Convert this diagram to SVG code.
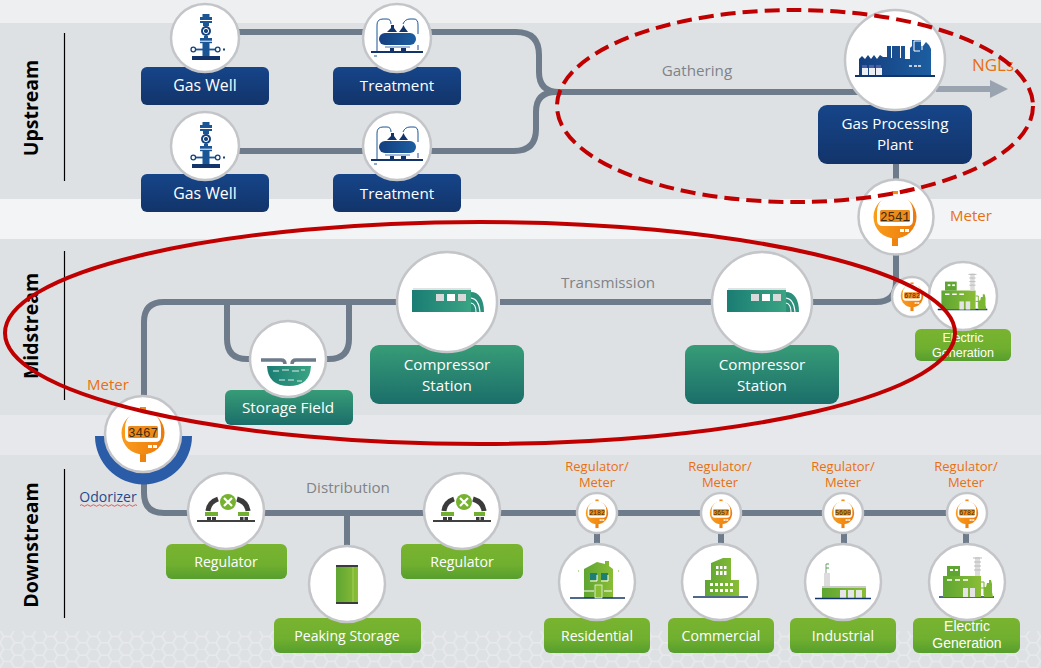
<svg xmlns="http://www.w3.org/2000/svg" width="1041" height="668" viewBox="0 0 1041 668">
<style>
text{font-family:"Open Sans","Noto Sans","Liberation Sans",sans-serif}
.c{fill:#fff;stroke:#c3c5c8;stroke-width:2.5}
.lb{fill:#fff;font-size:15.2px;text-anchor:middle}
.ls{fill:#fff;font-size:14.100px;text-anchor:middle}
.eg{font-family:"Liberation Sans",sans-serif;fill:#fff;text-anchor:middle}
.or{fill:#e96f10;font-size:13px;text-anchor:middle}
.gr{fill:#808387;font-size:15.200px;text-anchor:middle}
.sec{fill:#000;font-size:19.500px;font-weight:700;text-anchor:middle}
.pipe{fill:none;stroke:#6e7b8b;stroke-width:6}
.rule{stroke:#000;stroke-width:1.2}
.dg{font-family:"Liberation Mono",monospace;font-size:12.500px;fill:#3d2a10;text-anchor:middle}
.ds{font-size:6.500px}
</style>
<defs>
<linearGradient id="b" x1="0" y1="0" x2="0" y2="1"><stop offset="0" stop-color="#164589"/><stop offset="1" stop-color="#12346a"/></linearGradient>
<linearGradient id="t" x1="0" y1="0" x2="0" y2="1"><stop offset="0" stop-color="#379c77"/><stop offset="1" stop-color="#1b6e6a"/></linearGradient>
<linearGradient id="g" x1="0" y1="0" x2="0" y2="1"><stop offset="0" stop-color="#79b42f"/><stop offset=".6" stop-color="#70af2f"/><stop offset="1" stop-color="#569e2e"/></linearGradient>
<linearGradient id="gh" x1="0" y1="0" x2="1" y2="0"><stop offset="0" stop-color="#5ea532"/><stop offset="1" stop-color="#8abd36"/></linearGradient>
<linearGradient id="th" x1="0" y1="0" x2="1" y2="0"><stop offset="0" stop-color="#1a7c73"/><stop offset="1" stop-color="#3aa483"/></linearGradient>
<linearGradient id="bh" x1="0" y1="0" x2="1" y2="0"><stop offset="0" stop-color="#143f7f"/><stop offset="1" stop-color="#1c5ea0"/></linearGradient>
<linearGradient id="oh" x1="0" y1="0" x2="1" y2="0"><stop offset="0" stop-color="#f99d1c"/><stop offset="1" stop-color="#ec7a0c"/></linearGradient>
<pattern id="hex" width="27" height="31.2" patternUnits="userSpaceOnUse" patternTransform="scale(.8)"><path d="M0,7.8 L4.5,0 H13.5 L18,7.8 L13.5,15.6 H4.5 Z M18,7.8 H27 M4.5,15.6 L0,23.4 L4.5,31.2 M13.5,15.6 L18,23.4 L13.5,31.2 M18,23.4 H27" fill="none" stroke="#e7e9eb" stroke-width="2"/></pattern>

<g id="iWell" fill="#1a5596">
<rect x="-13" y="18" width="28" height="4" fill="#12346a"/>
<rect x="-2.500" y="-24" width="7" height="3"/>
<rect x="-5" y="-21" width="12" height="3"/><rect x="-5" y="-17" width="12" height="2"/>
<rect x="-2" y="-15" width="6" height="3"/><rect x="-1" y="-2" width="4" height="2"/>
<rect x="-5" y="0" width="12" height="2.700"/><rect x="-5" y="3.700" width="12" height="1.500"/>
<rect x="-2.500" y="5" width="7" height="13"/>
<circle cx="1" cy="-7" r="5" fill="#134480"/><circle cx="1" cy="-7" r="2.600" fill="none" stroke="#fff" stroke-width="1"/>
<path d="M-10,11.500 H11" stroke="#1a5596" stroke-width="1.800"/>
<circle cx="-11.700" cy="11.500" r="2.300" fill="#fff" stroke="#134480" stroke-width="1.300"/><circle cx="12.700" cy="11.500" r="2.300" fill="#fff" stroke="#134480" stroke-width="1.300"/>
<rect x="18" y="10.500" width="2" height="2" fill="#134480"/>
</g>
<g id="iTreat">
<path d="M-26,14 H26" stroke="#12346a" stroke-width="2"/>
<rect x="-18" y="-5" width="37" height="12" rx="6" fill="url(#bh)"/>
<path d="M-12,9 H13" stroke="#1a5596" stroke-width=".8"/>
<rect x="-7" y="10" width="4" height="4" fill="#12346a"/><rect x="4" y="10" width="5" height="4" fill="#12346a"/>
<path d="M-10,-6 h10 l-3,-4 v-3 h-3 v3 z M2,-6 h9 l-3,-4 -1.500,-3 -1.500,3 z" fill="#12346a"/>
<path d="M-20,13 V-13 q0,-6 6,-6 h4 q4,0 4,5 M6,-14 q2,-5 7,-5 h4 q4,0 4,6 V-4 M21,7 V12 M-20,18 h-3" fill="none" stroke="#1a5596" stroke-width="1"/>
</g>
<g id="iPlant">
<path d="M-36,15 V-1 l3,-3 3,3 3,-4 3,4 3,-4 3,4 3,-4 3,2 h4 V-14 h4 V-2 h1 V-14 h8 V-2 h1 V-14 h4 V-1 h5 V-12 l2,-2 V-20 h9 v6 h2 l3,-4 3,3 2,4 V15 Z" fill="url(#bh)"/>
<path d="M-40,16 H40" stroke="#12346a" stroke-width="2"/>
<path d="M-33,5 h5 v3 h-5 z M-26,5 h5 v3 h-5 z M-19,5 h5 v3 h-5 z" fill="#4a5fa6"/>
<path d="M-33,8 h6 v7 h-6 z M-26,8 h6 v7 h-6 z M-19,8 h6 v7 h-6 z" fill="#fff" opacity=".92"/>
<path d="M19,-19 v10 h6 M19,-19 h8 v9" fill="none" stroke="#fff" stroke-width="1"/>
<path d="M14,5 h3 v2 h-3 z M19,5 h3 v2 h-3 z M23,5 h3 v2 h-3 z" fill="#c4cde0"/>
</g>
<g id="iComp">
<path d="M-35,-12 H24 V10 H-35 Z" fill="url(#th)"/>
<path d="M-34,-13 H24" stroke="#c3c5c8" stroke-width="1.200"/>
<rect x="-11" y="-8" width="8" height="7" fill="#d9d9d9"/><rect x="0" y="-8" width="8" height="7" fill="#fff"/><rect x="11" y="-8" width="8" height="7" fill="#d9d9d9"/>
<path d="M24,-10 C32,-10 37,-3 37,10 H24 Z" fill="#2c8f7c"/>
<path d="M24,-4 Q32,-3 33,10 M24,1 Q29,2 29,10" fill="none" stroke="#fff" stroke-width="1.100"/>
</g>
<g id="iMeter">
<rect x="-3" y="-26" width="6" height="6" fill="#f28c13"/>
<rect x="-3" y="19" width="6" height="10" fill="#ee8410"/>
<circle r="21.500" fill="url(#oh)"/>
<path d="M-18,-5 A18,18 0 0 1 18,-5 V3 Q18,9 12,9 H-12 Q-18,9 -18,3 Z" fill="#fff"/>
<rect x="-15" y="-7" width="30" height="12" rx="1.500" fill="#ee8a1a"/>
<rect x="5" y="12" width="4" height="3" fill="#fff"/><rect x="10" y="12" width="4" height="3" fill="#fff"/>
</g>
<g id="iReg">
<path d="M-29,10 H29" stroke="#000" stroke-width="1.300"/>
<path d="M-18,0 Q-17,-9 -8,-12 M22,0 Q21,-9 11,-12" fill="none" stroke="#3b3b3b" stroke-width="5"/>
<circle cx="2" cy="-9" r="8" fill="#75b22f"/>
<path d="M-2,-13 L6,-5 M6,-13 L-2,-5" stroke="#fff" stroke-width="2.200"/>
<rect x="-21" y="1" width="13" height="4" fill="#70af2f"/><rect x="12" y="1" width="11" height="4" fill="#70af2f"/>
<rect x="-19" y="6" width="4" height="3" fill="#3b3b3b"/><rect x="-14" y="6" width="4" height="3" fill="#3b3b3b"/>
<rect x="14" y="6" width="3.500" height="3" fill="#3b3b3b"/><rect x="18.500" y="6" width="3.500" height="3" fill="#3b3b3b"/>
</g>
<g id="iElec">
<path d="M-28,15 H27" stroke="#12346a" stroke-width="1.500"/>
<path d="M-24,-6 H14 V15 H-24 Z" fill="url(#gh)"/>
<rect x="-20" y="-16" width="13" height="10" fill="#5ea532"/>
<rect x="-17" y="-13" width="3" height="2" fill="#fff"/><rect x="-12" y="-13" width="3" height="2" fill="#fff"/>
<rect x="8" y="-25" width="5" height="19" fill="#dcdcdc"/>
<path d="M6,-24 h9 M7,-20 h7 M7,-16 h7 M7,-12 h7" stroke="#b9bbb9" stroke-width="1"/>
<path d="M-20,-2 h5 M-12,-2 h5 M-4,-2 h5" stroke="#fff" stroke-width="1.500"/>
<rect x="-4" y="6" width="5" height="9" fill="#e4e4e4"/><rect x="3" y="6" width="5" height="9" fill="#e4e4e4"/>
<path d="M14,0 h3 V13 M14,6 h6" fill="none" stroke="#6fae2f" stroke-width="1"/>
<path d="M17,15 V5 h2 l1,-4 h2 v-3 h2 l1,4 v8 l1,5 Z" fill="#7ab631"/>
</g>
</defs>

<g id="background">
<rect width="1041" height="668" fill="#f3f4f5"/>
<rect width="1041" height="23" fill="#eeeff1"/>
<rect y="23" width="1041" height="176" fill="#dee1e4"/>
<rect y="239" width="1041" height="176" fill="#dee1e4"/>
<rect y="415" width="1041" height="40" fill="#e6e8eb"/>
<rect y="455" width="1041" height="213" fill="#dee1e4"/>
<rect y="631" width="1041" height="37" fill="url(#hex)"/>
</g>

<g id="sections">
<text class="sec" transform="translate(38,108) rotate(-90)">Upstream</text>
<text class="sec" transform="translate(38,326) rotate(-90)">Midstream</text>
<text class="sec" transform="translate(38,545) rotate(-90)">Downstream</text>
<path class="rule" d="M64.500,33 V181 M64.500,251 V400 M64.500,469 V618"/>
</g>

<g id="connectors">
<path class="pipe" d="M239,32 H516 Q539,32 539,55 V72 Q539,92 559,92 H860"/>
<path class="pipe" d="M239,151 H514 Q536,151 536,129 V112 Q536,92 556,92"/>
<path class="pipe" d="M896,164 V185 M896,255 V282 Q896,302 876,302 H500 M144,400 V322 Q144,302 164,302 H400"/>
<path class="pipe" d="M227,302 V339 Q227,359 247,359 H255 M349,302 V339 Q349,359 329,359 H322"/>
<path class="pipe" d="M144,480 V493 Q144,513 164,513 H960 M347,513 V550 M597,520 V550 M721,520 V550 M844,520 V550 M966,520 V550"/>
<path d="M936,89 H992" stroke="#9aa3b0" stroke-width="6" fill="none"/>
<path d="M990,80 L1008,89 L990,98 Z" fill="#9aa3b0"/>
</g>

<g id="labels">
<text class="gr" x="697" y="76">Gathering</text>
<text class="gr" x="608" y="288">Transmission</text>
<text class="gr" x="348" y="493">Distribution</text>
<text class="or" x="993" y="71" style="font-size:17px">NGLs</text>
<text class="or" x="971" y="221" style="font-size:15px">Meter</text>
<text class="or" x="108" y="390" style="font-size:15px">Meter</text>
</g>

<g id="gas-well-1"><rect x="141" y="67" width="128" height="38" rx="6" fill="url(#b)"/><circle class="c" cx="205" cy="38" r="34"/><use href="#iWell" x="205" y="38"/><text class="lb" x="205" y="91" style="font-size:15.800px">Gas Well</text></g>
<g id="treatment-1"><rect x="333" y="67" width="128" height="38" rx="6" fill="url(#b)"/><circle class="c" cx="397" cy="38" r="34"/><use href="#iTreat" x="397" y="38"/><text class="lb" x="397" y="91">Treatment</text></g>
<g id="gas-well-2"><rect x="141" y="174" width="128" height="38" rx="6" fill="url(#b)"/><circle class="c" cx="205" cy="146" r="34"/><use href="#iWell" x="205" y="146"/><text class="lb" x="205" y="199" style="font-size:15.800px">Gas Well</text></g>
<g id="treatment-2"><rect x="333" y="174" width="128" height="38" rx="6" fill="url(#b)"/><circle class="c" cx="397" cy="146" r="34"/><use href="#iTreat" x="397" y="146"/><text class="lb" x="397" y="199">Treatment</text></g>
<g id="gas-processing"><rect x="818" y="105" width="154" height="59" rx="9" fill="url(#b)"/><circle class="c" cx="895" cy="60" r="50"/><use href="#iPlant" x="895" y="60"/><text class="lb" x="895" y="129">Gas Processing</text><text class="lb" x="895" y="150">Plant</text></g>

<g id="meter-upper"><circle class="c" cx="896" cy="217" r="37.500"/><use href="#iMeter" transform="translate(895,217)"/><text class="dg" x="895" y="220.500">2541</text></g>
<g id="electric-mid"><rect x="915" y="329" width="96" height="32" rx="6" fill="url(#g)"/><circle class="c" cx="912" cy="297" r="20"/><use href="#iMeter" transform="translate(912,296) scale(.52)"/><text class="dg ds" x="912" y="297.500">6782</text><circle class="c" cx="963" cy="296" r="34"/><use href="#iElec" transform="translate(963,296) scale(.9)"/><text class="eg" x="963" y="342" style="font-size:12.500px">Electric</text><text class="eg" x="963" y="357" style="font-size:12.500px">Generation</text></g>
<g id="compressor-1"><rect x="370" y="345" width="154" height="59" rx="9" fill="url(#t)"/><circle class="c" cx="447" cy="302" r="50"/><use href="#iComp" x="447" y="302"/><text class="lb" x="447" y="370">Compressor</text><text class="lb" x="447" y="391">Station</text></g>
<g id="compressor-2"><rect x="685" y="345" width="154" height="59" rx="9" fill="url(#t)"/><circle class="c" cx="762" cy="302" r="50"/><use href="#iComp" x="762" y="302"/><text class="lb" x="762" y="370">Compressor</text><text class="lb" x="762" y="391">Station</text></g>
<g id="storage-field"><rect x="225" y="390" width="128" height="35" rx="6" fill="url(#t)"/><circle class="c" cx="288" cy="359" r="38"/>
<path d="M261,360 H281 Q285,360 285,364 M316,360 H296 Q292,360 292,364" fill="none" stroke="#6e7b8b" stroke-width="3.500"/>
<path d="M267,366 H311 Q310,386 289,386 Q268,386 267,366 Z" fill="url(#th)"/>
<path d="M273,371 h6 M282,370 h7 M292,371 h7 M301,370 h4 M279,380 h6 M288,380 h6 M297,381 h5" fill="none" stroke="#dfe9e6" stroke-width="1"/>
<text class="lb" x="288" y="413" style="font-size:15.300px">Storage Field</text></g>
<g id="odorizer-meter"><path d="M95,436 A48.500,48.500 0 0 0 192,436 H180 A36.500,36.500 0 0 1 107,436 Z" fill="#2b5ca8"/><circle class="c" cx="143" cy="434" r="38"/><use href="#iMeter" transform="translate(143,433)"/><text class="dg" x="143" y="436.500">3467</text>
<text x="108" y="502" style="font-size:14px;text-anchor:middle;fill:#1f4a8c">Odorizer</text><path d="M80,505.500 q1.500,-1.500 3,0 t3,0 t3,0 t3,0 t3,0 t3,0 t3,0 t3,0 t3,0 t3,0 t3,0 t3,0 t3,0 t3,0 t3,0 t3,0 t3,0 t3,0 t3,0" fill="none" stroke="#e03a3a" stroke-width=".8"/></g>

<g id="regulator-1"><rect x="166" y="544" width="121" height="35" rx="6" fill="url(#g)"/><circle class="c" cx="226" cy="511" r="38"/><use href="#iReg" x="226" y="511"/><text class="ls" x="226" y="567">Regulator</text></g>
<g id="regulator-2"><rect x="401" y="544" width="122" height="35" rx="6" fill="url(#g)"/><circle class="c" cx="462" cy="511" r="38"/><use href="#iReg" x="462" y="511"/><text class="ls" x="462" y="567">Regulator</text></g>
<g id="peaking-storage"><rect x="274" y="618" width="147" height="35" rx="6" fill="url(#g)"/><circle class="c" cx="347" cy="584" r="38"/><rect x="336" y="565" width="22" height="39" fill="url(#gh)"/><rect x="336" y="565" width="22" height="2" fill="#3b3b3b"/><rect x="336" y="602" width="22" height="2" fill="#3b3b3b"/><path d="M353,567 V602" stroke="#a5cf55" stroke-width="1"/><text class="ls" x="347" y="641">Peaking Storage</text></g>

<g id="residential"><rect x="544" y="618" width="106" height="35" rx="6" fill="url(#g)"/><circle class="c" cx="597" cy="513" r="20"/><use href="#iMeter" transform="translate(597,513) scale(.52)"/><text class="dg ds" x="597" y="514.500">2182</text><circle class="c" cx="597" cy="582" r="38"/>
<path d="M584,598 V569 L597,562 L605,564 V561 H609 V566 L613,569 V598 Z" fill="url(#gh)"/><path d="M570,598 H625" stroke="#12346a" stroke-width="1.500"/>
<rect x="590" y="573" width="7" height="7" fill="#1d7f74"/><rect x="601" y="573" width="7" height="7" fill="#1d7f74"/><path d="M590,581 H597 V575 M601,581 H608 V575 M584,591 H594 M604,591 H612" stroke="#fff" stroke-width="1" fill="none"/><rect x="595" y="585" width="7" height="13" fill="#8abd36" stroke="#fff" stroke-width=".7"/>
<rect x="578" y="570.500" width="1" height="1" fill="#7ab631"/><rect x="618" y="570.500" width="1" height="1" fill="#7ab631"/>
<text class="ls" x="597" y="641">Residential</text></g>
<g id="commercial"><rect x="668" y="618" width="106" height="35" rx="6" fill="url(#g)"/><circle class="c" cx="721" cy="513" r="20"/><use href="#iMeter" transform="translate(721,513) scale(.52)"/><text class="dg ds" x="721" y="514.500">3657</text><circle class="c" cx="720" cy="582" r="38"/>
<path d="M711,580 V563 L723,558 H731 V580 H739 V596 H705 V580 Z" fill="url(#gh)"/><path d="M693,597 H748" stroke="#12346a" stroke-width="1.500"/>
<path d="M716,566 h2.500 v3 h-2.500 z M720,566 h2.500 v3 h-2.500 z M724,566 h2.500 v3 h-2.500 z M716,571 h2.500 v4 h-2.500 z M720,571 h2.500 v4 h-2.500 z M724,571 h2.500 v4 h-2.500 z M710,583 h3 v3 h-3 z M715,583 h3 v3 h-3 z M720,583 h3 v3 h-3 z M725,583 h3 v3 h-3 z M730,583 h3 v3 h-3 z M710,589 h3 v3 h-3 z M715,589 h3 v3 h-3 z M720,589 h3 v3 h-3 z M725,589 h3 v3 h-3 z M730,589 h3 v3 h-3 z" fill="#fff"/>
<text class="ls" x="721" y="641">Commercial</text></g>
<g id="industrial"><rect x="790" y="618" width="106" height="35" rx="6" fill="url(#g)"/><circle class="c" cx="843" cy="513" r="20"/><use href="#iMeter" transform="translate(843,513) scale(.52)"/><text class="dg ds" x="843" y="514.500">5690</text><circle class="c" cx="843" cy="582" r="38"/>
<rect x="824" y="573" width="6" height="14" fill="#dcdcdc"/><path d="M826,564 V573" stroke="#c9cbc9" stroke-width="2"/><path d="M826,564 h3 M826,568 h3" stroke="#4da04a" stroke-width="1"/><rect x="822" y="586" width="44" height="2" fill="#c9cbc9"/><rect x="822" y="588" width="44" height="10" fill="url(#gh)"/><rect x="840" y="590" width="6" height="8" fill="#e6e6e6"/><rect x="848" y="590" width="6" height="8" fill="#e6e6e6"/><rect x="856" y="590" width="6" height="8" fill="#e6e6e6"/><path d="M815,598.500 H871" stroke="#12346a" stroke-width="1.500"/>
<text class="ls" x="843" y="641">Industrial</text></g>
<g id="electric-down"><rect x="913" y="618" width="107" height="35" rx="6" fill="url(#g)"/><circle class="c" cx="967" cy="513" r="20"/><use href="#iMeter" transform="translate(967,513) scale(.52)"/><text class="dg ds" x="967" y="514.500">6782</text><circle class="c" cx="967" cy="582" r="38"/><use href="#iElec" transform="translate(967,582)"/><text class="eg" x="967" y="631" style="font-size:14px">Electric</text><text class="eg" x="967" y="647.500" style="font-size:14px">Generation</text></g>

<g id="rm-labels">
<text class="or" x="597" y="471">Regulator/</text><text class="or" x="597" y="487">Meter</text>
<text class="or" x="720" y="471">Regulator/</text><text class="or" x="720" y="487">Meter</text>
<text class="or" x="843" y="471">Regulator/</text><text class="or" x="843" y="487">Meter</text>
<text class="or" x="966" y="471">Regulator/</text><text class="or" x="966" y="487">Meter</text>
</g>

<g id="highlights" fill="none" stroke="#c00000">
<ellipse cx="795" cy="106" rx="238" ry="96" stroke-width="4" stroke-dasharray="15 7"/>
<ellipse cx="480" cy="333" rx="475" ry="111" stroke-width="4"/>
</g>
</svg>
